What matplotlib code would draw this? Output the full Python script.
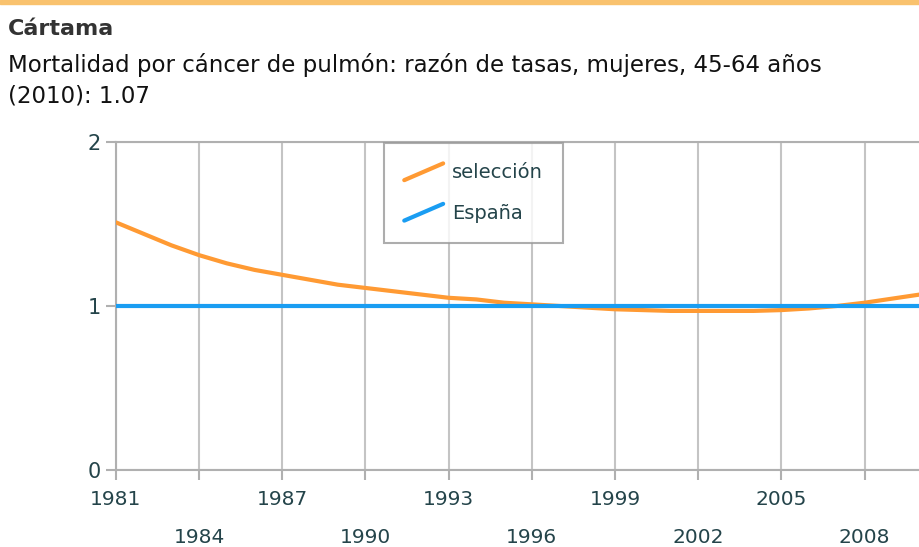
import matplotlib
matplotlib.use('Agg')
import matplotlib.pyplot as plt
from matplotlib.lines import Line2D
from matplotlib.legend_handler import HandlerBase
from matplotlib.patches import Rectangle

# Data
years = list(range(1981, 2011))
seleccion = [1.51, 1.44, 1.37, 1.31, 1.26, 1.22, 1.19, 1.16, 1.13, 1.11,
             1.09, 1.07, 1.05, 1.04, 1.02, 1.01, 1.00, 0.99, 0.98, 0.975,
             0.97, 0.97, 0.97, 0.97, 0.975, 0.985, 1.00, 1.02, 1.045, 1.07]
espana = [1.0] * len(years)
xticks = list(range(1981, 2010, 3))
yticks = [0, 1, 2]

orange = '#ff9a33'
blue = '#1a9df2'
text_color = '#24444a'
grid_color = '#c4c4c4'


class DiagonalHandler(HandlerBase):
    """Legend sample drawn as a rising diagonal stroke."""
    def create_artists(self, legend, orig_handle, xdescent, ydescent,
                       width, height, fontsize, trans):
        x0, y0 = -xdescent, -ydescent
        line = Line2D([x0, x0 + width], [y0, y0 + height],
                      color=orig_handle.get_color(), lw=orig_handle.get_linewidth(),
                      solid_capstyle='round', transform=trans)
        return [line]


fig = plt.figure(figsize=(9.2, 5.47), dpi=100)
fig.patches.append(Rectangle((0, 0.992), 1, 0.008, transform=fig.transFigure,
                             color='#f9c26e', zorder=0))

fig.text(0.009, 0.936, 'Cártama', fontsize=16, fontweight='bold',
         color='#333333', va='baseline', ha='left')
fig.text(0.009, 0.868, 'Mortalidad por cáncer de pulmón: razón de tasas, mujeres, 45-64 años',
         fontsize=16.5, color='#111111', va='baseline', ha='left')
fig.text(0.009, 0.8135, '(2010): 1.07', fontsize=16.5, color='#111111',
         va='baseline', ha='left')

ax = fig.add_axes([0.126, 0.1408, 0.874, 0.5996])
l1, = ax.plot(years, seleccion, color=orange, lw=3, solid_capstyle='round',
              label='selección', zorder=3)
l2, = ax.plot(years, espana, color=blue, lw=3, label='España', zorder=4)

ax.set_xlim(1981, 2010)
ax.set_ylim(0, 2)
ax.set_xticks(xticks)
ax.set_yticks(yticks)
ax.set_xticklabels([])
ax.set_yticklabels([str(v) for v in yticks], fontsize=15, color=text_color)

# staggered year labels, two rows
for i, yr in enumerate(xticks):
    ypos = -0.09 if i % 2 == 0 else -0.205
    ax.text(yr, ypos, str(yr), transform=ax.get_xaxis_transform(),
            ha='center', va='center', fontsize=14.5, color=text_color)

ax.grid(True, color=grid_color, lw=1.5)
ax.set_axisbelow(True)
ax.spines['right'].set_visible(False)
for side in ['left', 'bottom', 'top']:
    ax.spines[side].set_color('#b0b0b0')
    ax.spines[side].set_linewidth(1.5)
ax.tick_params(axis='both', length=7, width=1.5, color='#b0b0b0', pad=4)

leg = ax.legend(handles=[l1, l2], loc='upper left', bbox_to_anchor=(0.332, 1.0),
                handler_map={Line2D: DiagonalHandler()}, frameon=True,
                fancybox=False, fontsize=14, handlelength=2.0, handleheight=0.95,
                labelspacing=1.1, borderpad=1.05, handletextpad=0.45,
                labelcolor=text_color, borderaxespad=0.05)
leg.get_frame().set_edgecolor('#999999')
leg.get_frame().set_linewidth(1.5)

fig.savefig('out.png', dpi=100, facecolor='white')
